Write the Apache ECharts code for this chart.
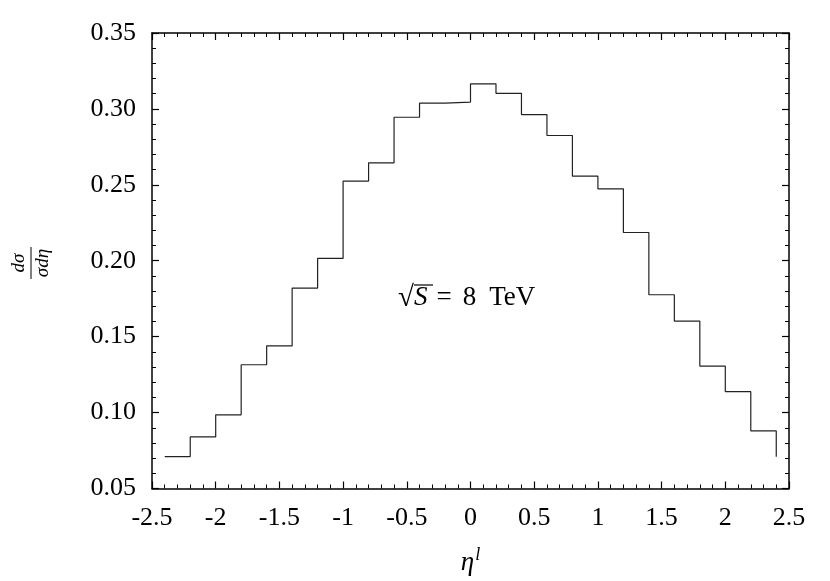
<!DOCTYPE html>
<html>
<head>
<meta charset="utf-8">
<title>eta distribution</title>
<script src="https://cdn.jsdelivr.net/npm/echarts@6/dist/echarts.min.js"></script>
<style>
  html, body { margin: 0; padding: 0; background: #fff; }
  #chart { width: 830px; height: 581px; }
</style>
</head>
<body>
<div id="chart"></div>
<script>
// bin left edges (width 0.2), last entry is the right edge of the final bin
const binEdges = [-2.4, -2.2, -2.0, -1.8, -1.6, -1.4, -1.2, -1.0, -0.8, -0.6, -0.4, -0.2,
  0.0, 0.2, 0.4, 0.6, 0.8, 1.0, 1.2, 1.4, 1.6, 1.8, 2.0, 2.2, 2.4];
// height of each step, the last value is where the closing vertical line ends
const binValues = [0.071, 0.084, 0.0985, 0.1315, 0.144, 0.182, 0.2015, 0.2525, 0.2645,
  0.2945, 0.3038, 0.3045, 0.3165, 0.3103, 0.2963, 0.2825, 0.2557, 0.2474, 0.2186,
  0.1776, 0.1603, 0.1306, 0.1138, 0.0879, 0.0709];
const xTicks = [-2.5, -2, -1.5, -1, -0.5, 0, 0.5, 1, 1.5, 2, 2.5];
const yTicks = [0.05, 0.10, 0.15, 0.20, 0.25, 0.30, 0.35];

const serif = "Liberation Serif";
const seriesData = binEdges.map((x, i) => [x, binValues[i]]);

const frameAxis = {
  axisLine: { show: true, onZero: false, lineStyle: { color: "#000", width: 1.5 } },
  axisTick: { show: true, inside: true, length: 7, lineStyle: { color: "#000", width: 1.2 } },
  minorTick: { show: true, splitNumber: 5, length: 4, lineStyle: { color: "#000", width: 1 } },
  splitLine: { show: false }
};

let chart = echarts.init(document.getElementById("chart"));
chart.setOption({
  animation: false,
  grid: { left: 152, right: 41, top: 33, bottom: 89 },
  xAxis: [
    Object.assign({
      type: "value",
      min: xTicks[0],
      max: xTicks[xTicks.length - 1],
      interval: 0.5,
      position: "bottom",
      axisLabel: {
        color: "#000", fontFamily: serif, fontSize: 26, margin: 17,
        formatter: v => String(v)
      },
      name: "{e|η}{s|l}",
      nameLocation: "middle",
      nameGap: 58,
      nameTextStyle: {
        rich: {
          e: { fontFamily: serif, fontStyle: "italic", fontSize: 27, color: "#000" },
          s: { fontFamily: serif, fontStyle: "italic", fontSize: 18, color: "#000",
               verticalAlign: "bottom", padding: [0, 0, 14, 1] }
        }
      }
    }, frameAxis),
    Object.assign({
      type: "value",
      min: xTicks[0],
      max: xTicks[xTicks.length - 1],
      interval: 0.5,
      position: "top",
      axisLabel: { show: false }
    }, frameAxis)
  ],
  yAxis: [
    Object.assign({
      type: "value",
      min: yTicks[0],
      max: yTicks[yTicks.length - 1],
      interval: 0.05,
      position: "left",
      axisLabel: {
        color: "#000", fontFamily: serif, fontSize: 26, margin: 16,
        formatter: v => v.toFixed(2)
      }
    }, frameAxis),
    Object.assign({
      type: "value",
      min: yTicks[0],
      max: yTicks[yTicks.length - 1],
      interval: 0.05,
      position: "right",
      axisLabel: { show: false }
    }, frameAxis)
  ],
  series: [
    {
      type: "line",
      step: "end",
      data: seriesData,
      showSymbol: false,
      symbol: "none",
      lineStyle: { color: "#222", width: 1.2 }
    }
  ],
  graphic: [
    {
      // y axis title: d sigma / sigma d eta, rotated
      type: "group",
      x: 31,
      y: 263,
      rotation: Math.PI / 2,
      children: [
        {
          type: "text",
          x: 0, y: -3,
          style: { text: "dσ", font: "italic 19px 'Liberation Serif'", fill: "#000",
                   align: "center", verticalAlign: "bottom" }
        },
        {
          type: "line",
          shape: { x1: -16, y1: 0, x2: 16, y2: 0 },
          style: { stroke: "#000", lineWidth: 1 }
        },
        {
          type: "text",
          x: 0, y: 2,
          style: { text: "σdη", font: "italic 19px 'Liberation Serif'", fill: "#000",
                   align: "center", verticalAlign: "top" }
        }
      ]
    },
    {
      // sqrt(S) = 8 TeV annotation
      type: "group",
      x: 398,
      y: 298,
      children: [
        {
          type: "text",
          x: 0, y: 0,
          style: {
            text: "{r|√}{s|S}{q|=}{n|8}{t|TeV}",
            verticalAlign: "middle",
            rich: {
              r: { fontFamily: serif, fontSize: 29, fill: "#000" },
              s: { fontFamily: serif, fontStyle: "italic", fontSize: 27, fill: "#000" },
              q: { fontFamily: serif, fontSize: 27, fill: "#000", padding: [0, 11, 0, 9] },
              n: { fontFamily: serif, fontSize: 27, fill: "#000", padding: [0, 13, 0, 0] },
              t: { fontFamily: serif, fontSize: 27, fill: "#000" }
            }
          }
        },
        {
          type: "line",
          shape: { x1: 16, y1: -13, x2: 35, y2: -13 },
          style: { stroke: "#000", lineWidth: 1.2 }
        }
      ]
    }
  ]
});
</script>
</body>
</html>
